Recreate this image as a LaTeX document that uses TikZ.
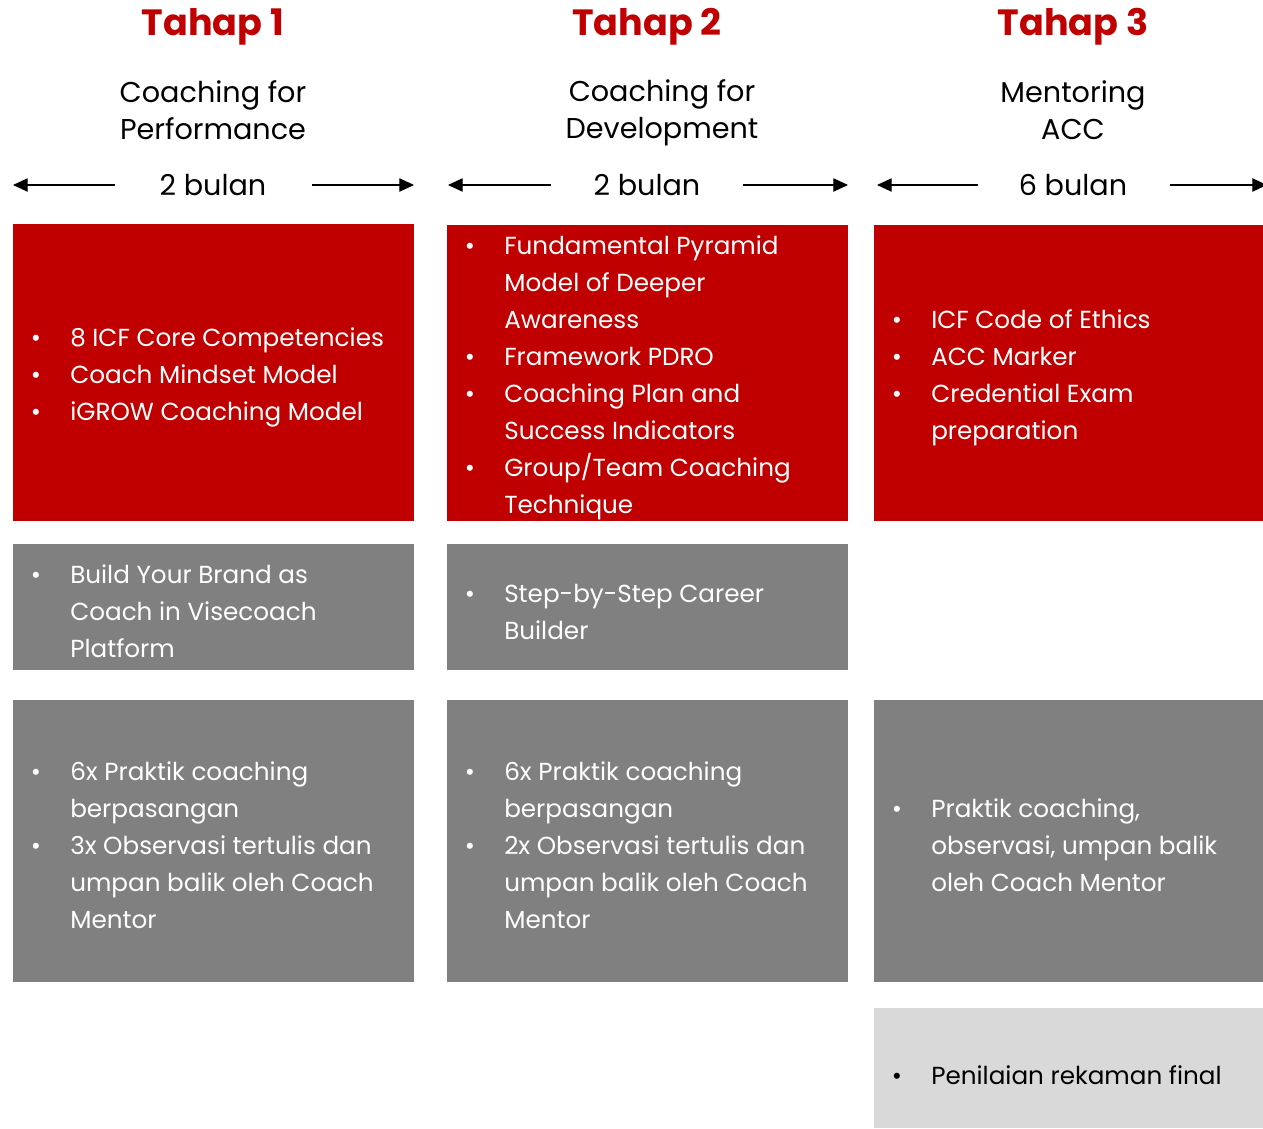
\documentclass[tikz,border=0pt]{standalone}
\usepackage{fontspec}
\setmainfont{Poppins}
\usetikzlibrary{arrows.meta}
\definecolor{tahapred}{HTML}{C00000}
\definecolor{boxgray}{HTML}{808080}
\definecolor{boxlight}{HTML}{D9D9D9}
\newcommand{\bul}{\llap{•\hspace{22pt}}}

\begin{document}
\begin{tikzpicture}[x=0.75pt,y=-0.75pt,
  title/.style={font=\bfseries\fontsize{27.4}{30}\selectfont, text=tahapred, inner sep=0},
  sub/.style={font=\fontsize{21.5}{27.75}\selectfont, align=center, inner sep=0},
  dur/.style={font=\fontsize{21.5}{24}\selectfont, inner sep=0},
  arr/.style={-{Triangle[length=11pt,width=10pt]}, line width=0.9pt},
  txt/.style={anchor=west, align=left, inner sep=0, text=white,
    font=\fontsize{18.5}{27.75}\selectfont}]
\useasboundingbox (0,0) rectangle (1263,1128);
% headers
\node[title] (t1) at (213,27) {Tahap 1};
\node[title] (t2) at (647,27) {Tahap 2};
\node[title] (t3) at (1073,27) {Tahap 3};
\node[sub] (s1) at (213,110) {Coaching for\\Performance};
\node[sub] (s2) at (662,113) {Coaching for\\Development};
\node[sub] (s3) at (1073,110) {Mentoring\\ACC};
% durations
\node[dur] (d1) at (213,185) {2 bulan};
\node[dur] (d2) at (647,185) {2 bulan};
\node[dur] (d3) at (1073,185) {6 bulan};
\coordinate (a1l) at (13,185);  \coordinate (a1m) at (115,185);
\coordinate (a1n) at (312,185); \coordinate (a1r) at (414,185);
\coordinate (a2l) at (448,185); \coordinate (a2m) at (551,185);
\coordinate (a2n) at (743,185); \coordinate (a2r) at (848,185);
\coordinate (a3l) at (877,185); \coordinate (a3m) at (978,185);
\coordinate (a3n) at (1170,185); \coordinate (a3r) at (1267,185);
\draw[arr] (a1m) -- (a1l);
\draw[arr] (a1n) -- (a1r);
\draw[arr] (a2m) -- (a2l);
\draw[arr] (a2n) -- (a2r);
\draw[arr] (a3m) -- (a3l);
\draw[arr] (a3n) -- (a3r);
% red row
\fill[tahapred] (13,224) rectangle (414,521);
\fill[tahapred] (447,225) rectangle (848,521);
\fill[tahapred] (874,225) rectangle (1263,521);
\node[txt] (r1) at (70,377) {\bul 8 ICF Core Competencies\\\bul Coach Mindset Model\\\bul iGROW Coaching Model};
\node[txt] (r2) at (504,378) {\bul Fundamental Pyramid\\Model of Deeper\\Awareness\\\bul Framework PDRO\\\bul Coaching Plan and\\Success Indicators\\\bul Group/Team Coaching\\Technique};
\node[txt] (r3) at (931,378) {\bul ICF Code of Ethics\\\bul ACC Marker\\\bul Credential Exam\\preparation};
% gray row
\fill[boxgray] (13,544) rectangle (414,670);
\fill[boxgray] (447,544) rectangle (848,670);
\node[txt] (g1) at (70,611) {\bul Build Your Brand as\\Coach in Visecoach\\Platform};
\node[txt] (g2) at (504,612) {\bul Step-by-Step Career\\Builder};
% practice row
\fill[boxgray] (13,700) rectangle (414,982);
\fill[boxgray] (447,700) rectangle (848,982);
\fill[boxgray] (874,700) rectangle (1263,982);
\node[txt] (p1) at (70,845) {\bul 6x Praktik coaching\\berpasangan\\\bul 3x Observasi tertulis dan\\umpan balik oleh Coach\\Mentor};
\node[txt] (p2) at (504,845) {\bul 6x Praktik coaching\\berpasangan\\\bul 2x Observasi tertulis dan\\umpan balik oleh Coach\\Mentor};
\node[txt] (p3) at (931,845) {\bul Praktik coaching,\\observasi, umpan balik\\oleh Coach Mentor};
% final
\fill[boxlight] (874,1008) rectangle (1263,1128);
\node[txt, text=black] (f3) at (931,1075) {\bul Penilaian rekaman final};
\end{tikzpicture}
\end{document}
